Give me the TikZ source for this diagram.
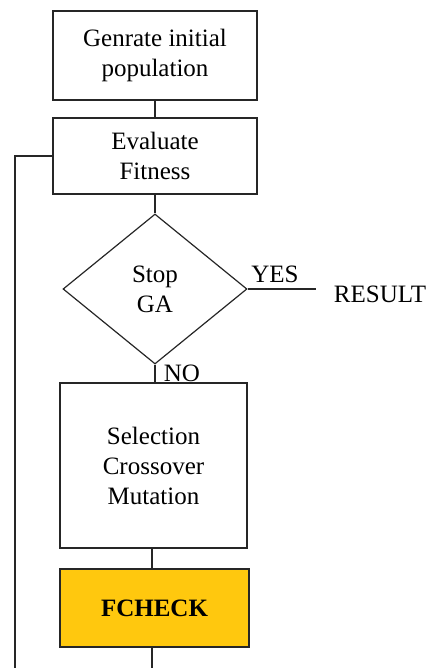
\documentclass[tikz,border=0pt]{standalone}
\usepackage{fontspec}
\setmainfont{LiberationSerif}[Extension=.ttf, UprightFont=*-Regular, BoldFont=*-Bold, ItalicFont=*-Italic, BoldItalicFont=*-BoldItalic]
\usetikzlibrary{shapes.geometric}
\definecolor{lineclr}{HTML}{262626}
\definecolor{fyellow}{RGB}{255,200,14}
\tikzset{
  conn/.style={line width=1.6pt, draw=lineclr},
  txt/.style={font=\fontsize{25}{30}\selectfont, align=center, inner sep=0pt},
  box/.style={txt, draw=lineclr, line width=1.6pt, rectangle},
  dec/.style={txt, draw=lineclr, line width=1.2pt, diamond, minimum width=184pt, minimum height=150pt},
  lbl/.style={txt, draw=none},
}
\begin{document}
\begin{tikzpicture}[x=1pt, y=-1pt]
\useasboundingbox (0,0) rectangle (433,668);
\node[box, minimum width=204pt, minimum height=89pt] (b1) at (155,55.5) {Genrate initial\\population};
\node[box, minimum width=204pt, minimum height=76pt] (b2) at (155,156) {Evaluate\\Fitness};
\node[dec] (d) at (155,289) {Stop\\GA};
\node[box, minimum width=187pt, minimum height=165pt] (b3) at (153.5,465.5) {Selection\\Crossover\\Mutation};
\node[box, fill=fyellow, minimum width=189pt, minimum height=78pt] (b4) at (154.5,608) {\textbf{FCHECK}};
\node[lbl] (res) at (380,294) {RESULT};
\node[lbl] (yes) at (275,274) {YES};
\node[lbl] (no) at (182,373) {NO};
\coordinate (l1) at (15,156);
\coordinate (l2) at (15,668);
\coordinate (r1) at (316,289);
\coordinate (e1) at (152,668);
\draw[conn] (b1.south) -- (b2.north);
\draw[conn] (b2.south) -- (d.north);
\draw[conn] (d.east) -- (r1);
\draw[conn] (d.south) -- (d.south |- b3.north);
\draw[conn] (b3.south -| 152,0) -- (b4.north -| 152,0);
\draw[conn] (b4.south -| 152,0) -- (e1);
\draw[conn] (b2.west) -- (l1) -- (l2);
\end{tikzpicture}
\end{document}
